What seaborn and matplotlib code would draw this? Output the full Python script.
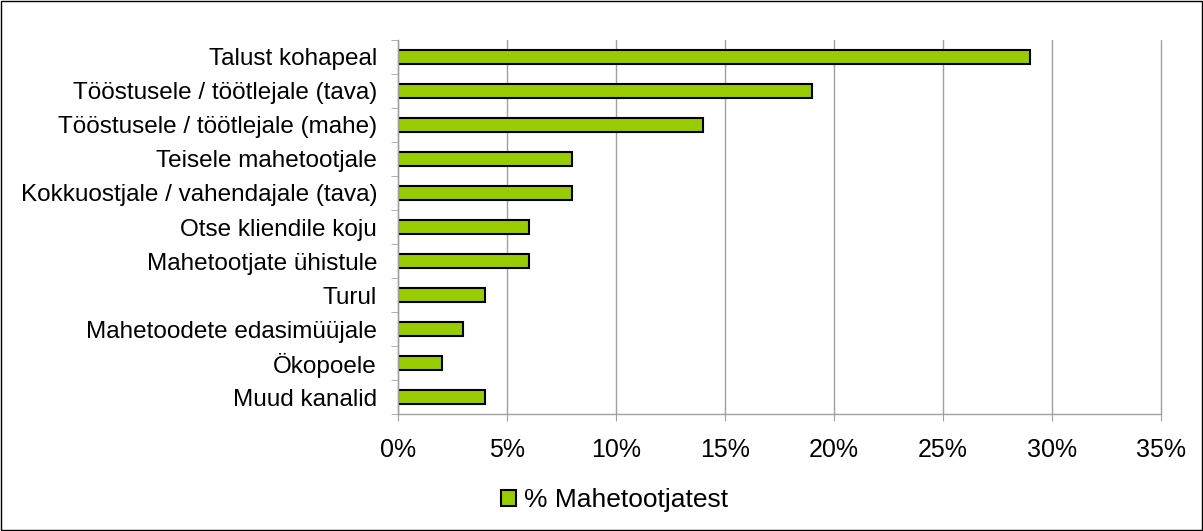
import numpy as np
import pandas as pd
import seaborn as sns
import matplotlib.pyplot as plt
from matplotlib.patches import Rectangle, Patch
from matplotlib.ticker import FixedLocator, PercentFormatter

# andmed
kanalid = ['Talust kohapeal', 'Tööstusele / töötlejale (tava)', 'Tööstusele / töötlejale (mahe)',
           'Teisele mahetootjale', 'Kokkuostjale / vahendajale (tava)', 'Otse kliendile koju',
           'Mahetootjate ühistule', 'Turul', 'Mahetoodete edasimüüjale', 'Ökopoele', 'Muud kanalid']
osakaal = [29, 19, 14, 8, 8, 6, 6, 4, 3, 2, 4]
seeria = '% Mahetootjatest'

df = pd.DataFrame({'kanal': kanalid, 'osakaal': osakaal})

sns.set_style('white')
plt.rcParams['font.family'] = ['Liberation Sans', 'DejaVu Sans']
plt.rcParams['text.color'] = 'black'
plt.rcParams['xtick.labelcolor'] = 'black'
plt.rcParams['ytick.labelcolor'] = 'black'

fig = plt.figure(figsize=(12.03, 5.31), dpi=100)
ax = fig.add_axes([0.3308, 0.2203, 0.6343, 0.7044])

sns.barplot(data=df, x='osakaal', y='kanal', orient='h', color='#99CC00',
            saturation=1, width=0.4, edgecolor='black', linewidth=1.5, ax=ax)

ax.set_xlim(0, 35)
ax.set_ylim(len(kanalid) - 0.5, -0.5)
ax.set_xticks(np.arange(0, 36, 5))
ax.xaxis.set_major_formatter(PercentFormatter(decimals=0))
ax.set_xlabel('')
ax.set_ylabel('')
ax.grid(axis='x', color='#A0A0A0', linewidth=1)
ax.set_axisbelow(True)
# viimane ruudujoon paremas servas ei tohi pooleks lõigata
for gl in ax.get_xgridlines():
    gl.set_clip_on(False)

for s in ['top', 'right']:
    ax.spines[s].set_visible(False)
for s in ['left', 'bottom']:
    ax.spines[s].set_color('#A0A0A0')
    ax.spines[s].set_linewidth(1)

# kategooriate piirid tikkidena nagu Excelis
ax.yaxis.set_minor_locator(FixedLocator(np.arange(-0.5, len(kanalid), 1)))
ax.tick_params(axis='y', which='major', length=0, labelsize=17.5, pad=15)
ax.tick_params(axis='y', which='minor', length=5, color='#A0A0A0', direction='out', left=True)
ax.tick_params(axis='x', length=5, color='#A0A0A0', direction='out', bottom=True,
               labelsize=18, pad=12)

fig.legend(handles=[Patch(facecolor='#99CC00', edgecolor='black', linewidth=1.5, label=seeria)],
           loc='center', bbox_to_anchor=(0.511, 0.058), frameon=False, fontsize=19,
           handlelength=0.55, handleheight=0.55, handletextpad=0.3)

fig.patches.append(Rectangle((0.001, 0.002), 0.998, 0.996, transform=fig.transFigure,
                             fill=False, edgecolor='black', linewidth=1))

fig.savefig('out.png', dpi=100)
